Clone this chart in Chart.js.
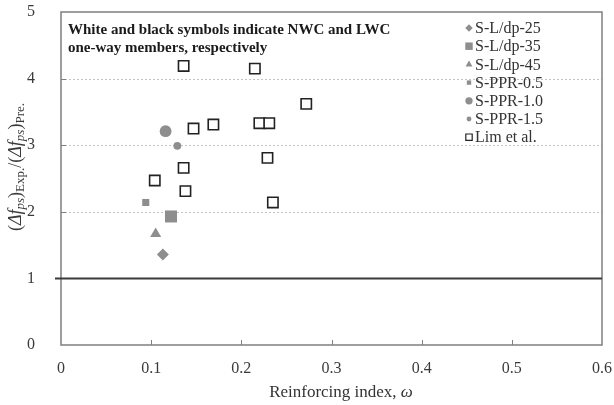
<!DOCTYPE html>
<html><head><meta charset="utf-8">
<script src="https://cdn.jsdelivr.net/npm/chart.js@4.4.0/dist/chart.umd.min.js"></script>
<style>html,body{margin:0;padding:0;background:#fff}#wrap{width:614px;height:405px;position:relative}</style>
</head><body><div id="wrap"><canvas id="c" width="614" height="405"></canvas></div>
<script>
// ---- data ----
const xTickValues = [0, 0.1, 0.2, 0.3, 0.4, 0.5, 0.6];
const xTickLabels = ['0', '0.1', '0.2', '0.3', '0.4', '0.5', '0.6'];
const yTickValues = [0, 1, 2, 3, 4, 5];
const yTickLabels = ['0', '1', '2', '3', '4', '5'];
const yGridValues = [2, 3, 4];
const referenceLine = 1;

const seriesLabels = ['S-L/dp-25', 'S-L/dp-35', 'S-L/dp-45', 'S-PPR-0.5', 'S-PPR-1.0', 'S-PPR-1.5', 'Lim et al.'];
const sld25X = [0.113];  const sld25Y = [1.36];
const sld35X = [0.122];  const sld35Y = [1.93];
const sld45X = [0.105];  const sld45Y = [1.67];
const ppr05X = [0.094];  const ppr05Y = [2.14];
const ppr10X = [0.116];  const ppr10Y = [3.21];
const ppr15X = [0.129];  const ppr15Y = [2.99];
const limX = [0.136, 0.215, 0.272, 0.147, 0.169, 0.220, 0.231, 0.136, 0.229, 0.104, 0.138, 0.235];
const limY = [4.19, 4.15, 3.62, 3.25, 3.31, 3.33, 3.33, 2.66, 2.81, 2.47, 2.31, 2.14];

const noteLines = ['White and black symbols indicate NWC and LWC', 'one-way members, respectively'];
const xTitleText = 'Reinforcing index, ';
const xTitleItalic = '\u03c9';

// ---- styles ----
const SERIF = '"Liberation Serif", "Times New Roman", serif';
const GREY = '#8e8e8e';
const pts = (xs, ys) => xs.map((v, i) => ({x: v, y: ys[i]}));

const seriesData = [
  [sld25X, sld25Y], [sld35X, sld35Y], [sld45X, sld45Y],
  [ppr05X, ppr05Y], [ppr10X, ppr10Y], [ppr15X, ppr15Y], [limX, limY]
];
const seriesStyle = [
  {pointStyle: 'rectRot', r: 6, bg: GREY, bc: GREY, bw: 0},
  {pointStyle: 'rect', r: 8.5, bg: GREY, bc: GREY, bw: 0},
  {pointStyle: 'triangle', r: 6.4, bg: GREY, bc: GREY, bw: 0},
  {pointStyle: 'rect', r: 5, bg: GREY, bc: GREY, bw: 0},
  {pointStyle: 'circle', r: 5.9, bg: GREY, bc: GREY, bw: 0},
  {pointStyle: 'circle', r: 3.9, bg: GREY, bc: GREY, bw: 0},
  {pointStyle: 'rect', r: 7.3, bg: '#ffffff', bc: '#222222', bw: 1.6}
];

const datasets = seriesLabels.map((lab, i) => ({
  label: lab,
  data: pts(seriesData[i][0], seriesData[i][1]),
  showLine: false,
  pointStyle: seriesStyle[i].pointStyle,
  pointRadius: seriesStyle[i].r,
  pointHoverRadius: seriesStyle[i].r,
  backgroundColor: seriesStyle[i].bg,
  borderColor: seriesStyle[i].bc,
  borderWidth: seriesStyle[i].bw,
  pointBorderWidth: seriesStyle[i].bw
}));

function drawMarker(ctx, style, cx, cy, r, fill, stroke, bw) {
  ctx.beginPath();
  if (style === 'circle') ctx.arc(cx, cy, r, 0, Math.PI * 2);
  else if (style === 'rect') { const s = r * Math.SQRT1_2; ctx.rect(cx - s, cy - s, 2 * s, 2 * s); }
  else if (style === 'rectRot') { ctx.moveTo(cx - r, cy); ctx.lineTo(cx, cy - r); ctx.lineTo(cx + r, cy); ctx.lineTo(cx, cy + r); ctx.closePath(); }
  else if (style === 'triangle') { ctx.moveTo(cx, cy - r); ctx.lineTo(cx + r * 0.866, cy + r / 2); ctx.lineTo(cx - r * 0.866, cy + r / 2); ctx.closePath(); }
  ctx.fillStyle = fill; ctx.fill();
  if (bw) { ctx.lineWidth = bw; ctx.strokeStyle = stroke; ctx.stroke(); }
}

const deco = {
  id: 'deco',
  beforeDatasetsDraw(chart) {
    const {ctx, chartArea: {left, right, top, bottom}, scales: {x, y}} = chart;
    ctx.save();
    // dashed gridlines
    ctx.setLineDash([2, 2]);
    ctx.strokeStyle = '#c4c4c4'; ctx.lineWidth = 1;
    yGridValues.forEach(v => {
      const py = Math.round(y.getPixelForValue(v)) + 0.5;
      ctx.beginPath(); ctx.moveTo(left, py); ctx.lineTo(right, py); ctx.stroke();
    });
    ctx.setLineDash([]);
    // frame
    ctx.strokeStyle = '#7f7f7f'; ctx.lineWidth = 1.5;
    ctx.strokeRect(left, top, right - left, bottom - top);
    // tick marks (inward)
    ctx.strokeStyle = '#7f7f7f'; ctx.lineWidth = 1;
    xTickValues.slice(1, -1).forEach(v => {
      const px = Math.round(x.getPixelForValue(v)) + 0.5;
      ctx.beginPath(); ctx.moveTo(px, bottom); ctx.lineTo(px, bottom - 5); ctx.stroke();
    });
    yGridValues.forEach(v => {
      const py = Math.round(y.getPixelForValue(v)) + 0.5;
      ctx.beginPath(); ctx.moveTo(left, py); ctx.lineTo(left + 5, py); ctx.stroke();
    });
    // reference line at 1
    const p1 = y.getPixelForValue(referenceLine);
    ctx.strokeStyle = '#3a3a3a'; ctx.lineWidth = 2;
    ctx.beginPath(); ctx.moveTo(left - 6, p1); ctx.lineTo(right, p1); ctx.stroke();
    ctx.restore();
  },
  afterDraw(chart) {
    const {ctx} = chart;
    ctx.save();
    // note
    ctx.fillStyle = '#1a1a1a';
    ctx.font = 'bold 15px ' + SERIF;
    ctx.textBaseline = 'middle'; ctx.textAlign = 'left';
    ctx.fillText(noteLines[0], 68, 30);
    ctx.fillText(noteLines[1], 68, 48);
    // legend
    ctx.font = '16px ' + SERIF;
    chart.data.datasets.forEach((ds, i) => {
      const cy = 28 + i * 18.2;
      const st = seriesStyle[i];
      drawMarker(ctx, ds.pointStyle, 469, cy, st.r * 0.62, ds.backgroundColor, ds.borderColor, st.bw ? 1.2 : 0);
      ctx.fillStyle = '#333';
      ctx.textBaseline = 'middle';
      ctx.fillText(ds.label, 475, cy + 1);
    });
    // x title
    ctx.font = '17px ' + SERIF;
    const w1 = ctx.measureText(xTitleText).width;
    ctx.font = 'italic 17px ' + SERIF;
    const w2 = ctx.measureText(xTitleItalic).width;
    const sx = 341 - (w1 + w2) / 2;
    ctx.fillStyle = '#333'; ctx.textBaseline = 'middle';
    ctx.font = '17px ' + SERIF; ctx.fillText(xTitleText, sx, 393);
    ctx.font = 'italic 17px ' + SERIF; ctx.fillText(xTitleItalic, sx + w1, 393);
    // y title (rotated, with subscripts)
    const segs = [
      ['(', '18px', 0], ['\u0394f', 'italic 18px', 0], ['ps', 'italic 13px', 3], [')', '18px', 0], ['Exp.', '13px', 3],
      ['/(', '18px', 0], ['\u0394f', 'italic 18px', 0], ['ps', 'italic 13px', 3], [')', '18px', 0], ['Pre.', '13px', 3]
    ];
    let total = 0;
    segs.forEach(s => { ctx.font = s[1] + ' ' + SERIF; s.w = ctx.measureText(s[0]).width; total += s.w; });
    ctx.translate(21, 167);
    ctx.rotate(-Math.PI / 2);
    ctx.textBaseline = 'alphabetic'; ctx.textAlign = 'left';
    ctx.fillStyle = '#3a3a3a';
    let cx = -total / 2;
    segs.forEach(s => { ctx.font = s[1] + ' ' + SERIF; ctx.fillText(s[0], cx, s[2]); cx += s.w; });
    ctx.restore();
  }
};

const zeroPad = s => { s.paddingTop = 0; s.paddingBottom = 0; s.paddingLeft = 0; s.paddingRight = 0; };

new Chart(document.getElementById('c'), {
  type: 'scatter',
  data: {datasets},
  options: {
    responsive: false,
    animation: false,
    devicePixelRatio: 1,
    layout: {autoPadding: false, padding: {left: 0, right: 12, top: 12, bottom: 0}},
    plugins: {legend: {display: false}, tooltip: {enabled: false}},
    scales: {
      x: {
        type: 'linear', min: 0, max: 0.6,
        afterBuildTicks: s => { s.ticks = xTickValues.map(v => ({value: v})); },
        afterFit: s => { s.height = 60; zeroPad(s); },
        grid: {display: false, drawTicks: false},
        border: {display: false},
        ticks: {
          padding: 14, color: '#3a3a3a', font: {family: SERIF, size: 16},
          maxRotation: 0, autoSkip: false,
          callback: (v, i) => xTickLabels[i]
        }
      },
      y: {
        type: 'linear', min: 0, max: 5,
        afterBuildTicks: s => { s.ticks = yTickValues.map(v => ({value: v})); },
        afterFit: s => { s.width = 61; zeroPad(s); },
        grid: {display: false, drawTicks: false},
        border: {display: false},
        ticks: {
          padding: 26, color: '#3a3a3a', font: {family: SERIF, size: 16},
          autoSkip: false,
          callback: (v, i) => yTickLabels[i]
        }
      }
    }
  },
  plugins: [deco]
});
</script>
</body></html>
